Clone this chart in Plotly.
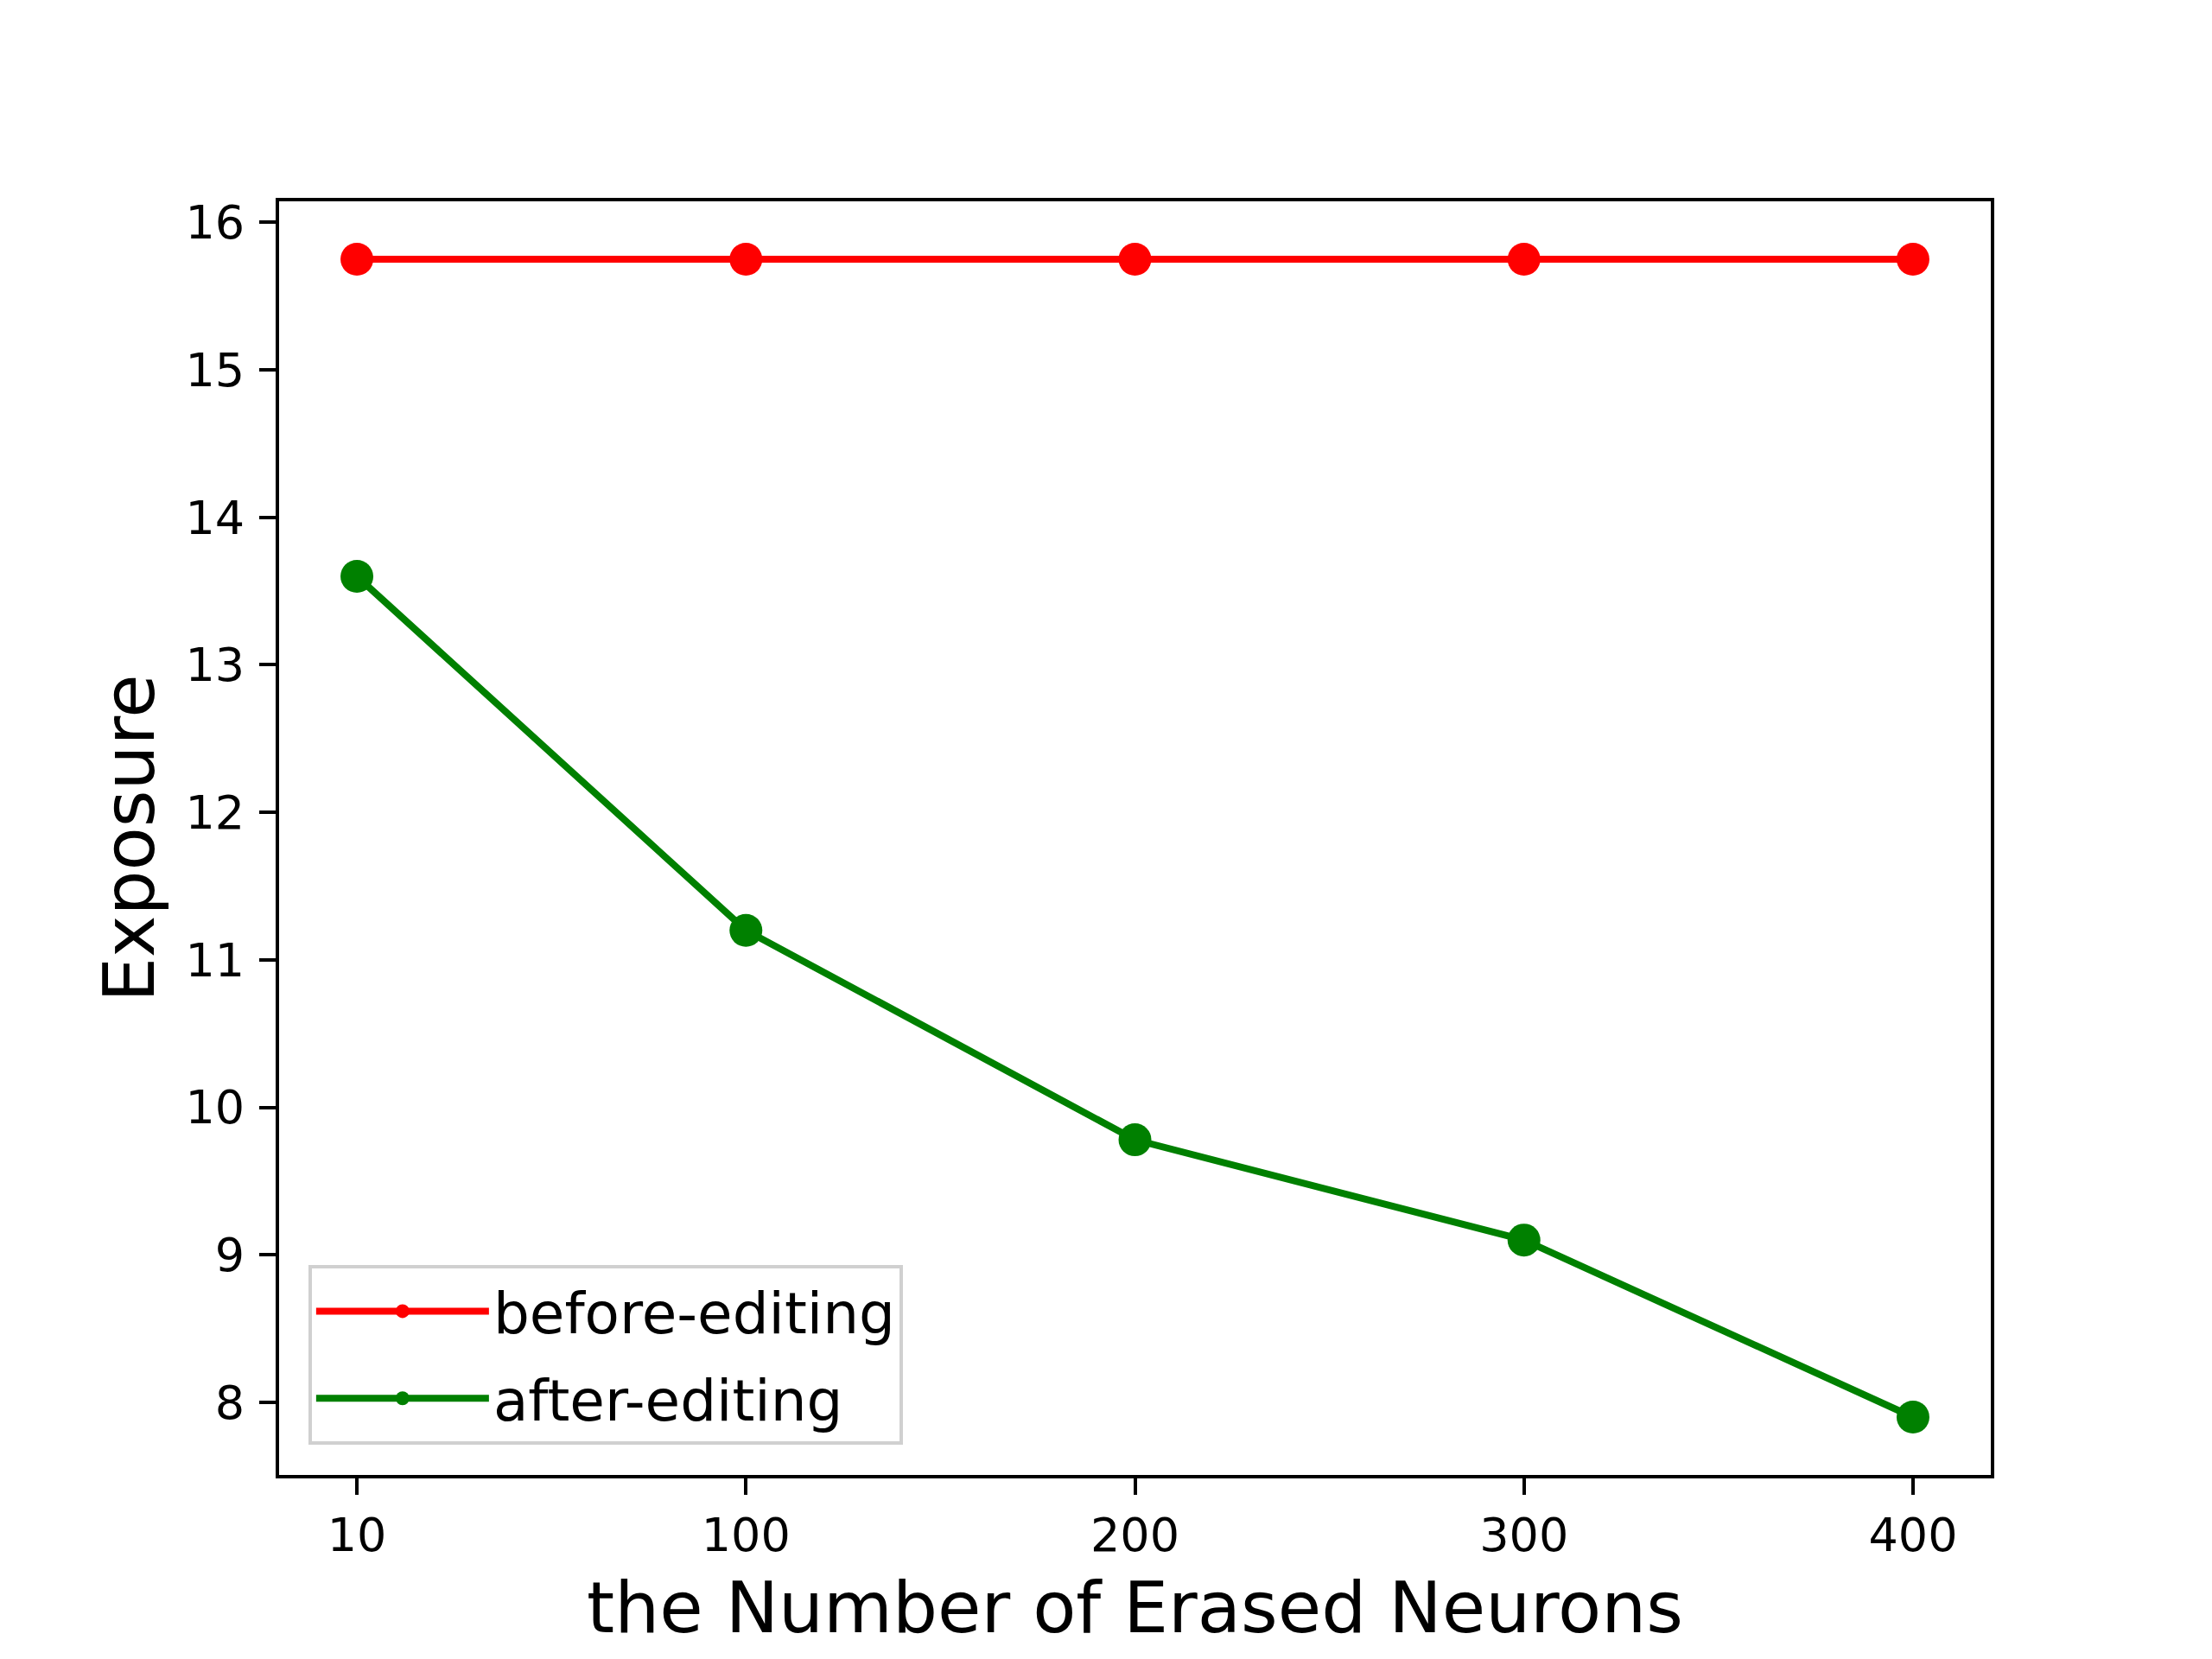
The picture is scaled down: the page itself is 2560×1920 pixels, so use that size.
"""
Plot exposure before / after editing against the number of erased neurons.
Use plotly to draw both series as lines with markers.
"""

import plotly.graph_objects as go

erased_neurons = ['10', '100', '200', '300', '400']
before_editing = [15.75, 15.75, 15.75, 15.75, 15.75]
after_editing = [13.6, 11.2, 9.78, 9.1, 7.9]
y_ticks = [8, 9, 10, 11, 12, 13, 14, 15, 16]

FONT = 'DejaVu Sans'


def add_series(fig: go.Figure, y: list, name: str, color: str):
    """
    One line with round markers, matplotlib style.
    """
    fig.add_trace(go.Scatter(
        x=erased_neurons, y=y, name=name, mode='lines+markers',
        legendgroup=name,
        line=dict(color=color, width=8),
        marker=dict(color=color, size=38, symbol='circle'),
    ))


def plot_exposure():
    fig = go.Figure()
    add_series(fig, before_editing, 'before-editing', 'red')
    add_series(fig, after_editing, 'after-editing', 'green')

    axis_common = dict(
        showline=True, linecolor='black', linewidth=4, mirror=True,
        showgrid=False, zeroline=False,
        ticks='outside', ticklen=19, tickwidth=4, tickcolor='black',
        tickfont=dict(family=FONT, size=54, color='black'),
    )
    fig.update_xaxes(
        type='category', range=[-0.2, 4.2], ticklabelstandoff=0,
        title=dict(text='the Number of Erased Neurons', standoff=26,
                   font=dict(family=FONT, size=82, color='black')),
        **axis_common,
    )
    fig.update_yaxes(
        range=[7.5075, 16.1425], tickvals=y_ticks, ticklabelstandoff=6,
        title=dict(text='Exposure', standoff=10,
                   font=dict(family=FONT, size=82, color='black')),
        **axis_common,
    )
    # the page body has an 8px margin, so the margins are shifted by it
    fig.update_layout(
        width=2560, height=1920,
        margin=dict(l=315, r=264, t=225, b=221),
        paper_bgcolor='white', plot_bgcolor='white',
        font=dict(family=FONT, color='black'),
        showlegend=True,
        legend=dict(
            x=0.0171, y=0.0237, xanchor='left', yanchor='bottom',
            bgcolor='rgba(255,255,255,0.8)', bordercolor='#d0d0d0', borderwidth=4,
            font=dict(family=FONT, size=66, color='black'),
            itemwidth=200, tracegroupgap=12,
            entrywidth=535, entrywidthmode='pixels',
        ),
    )
    return fig


def main():
    fig = plot_exposure()
    fig.write_html("out.html")


if __name__ == '__main__':
    main()
